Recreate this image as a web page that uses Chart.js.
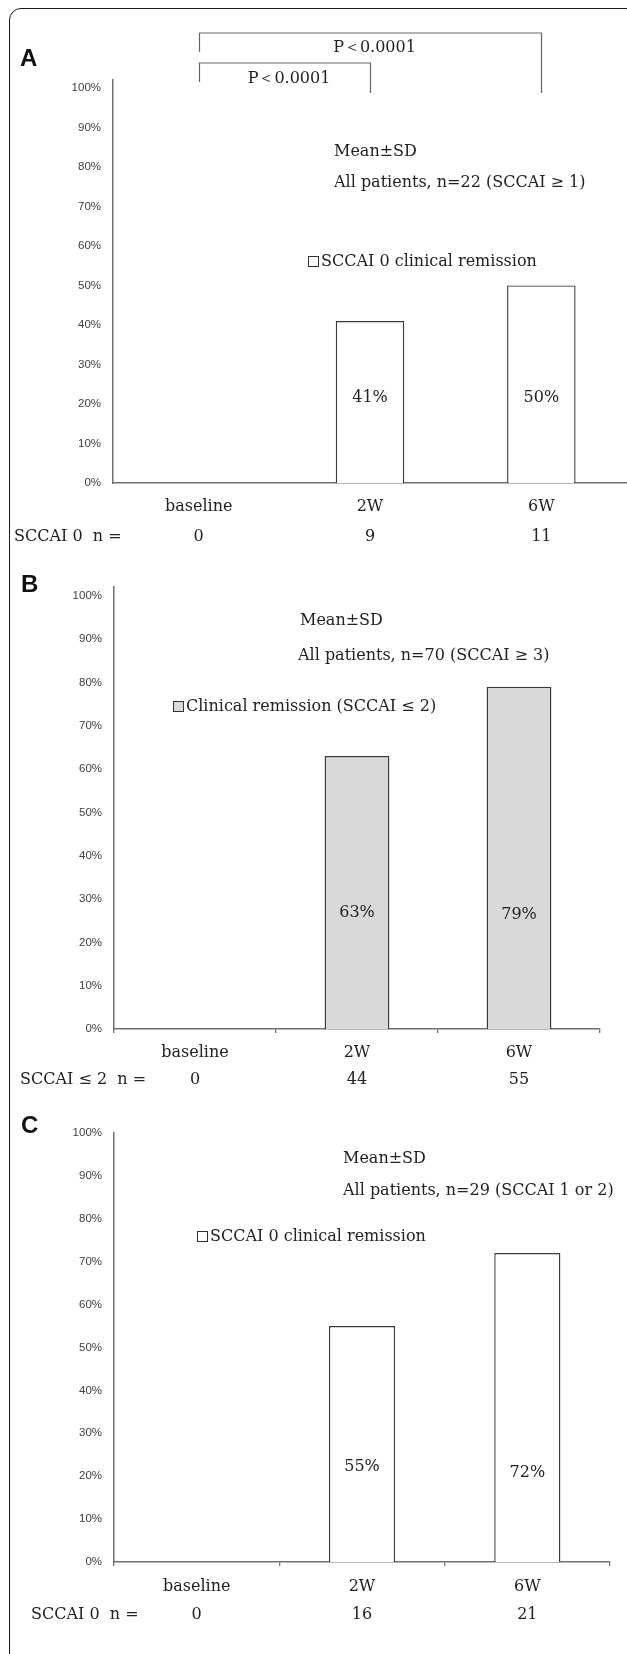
<!DOCTYPE html>
<html>
<head>
<meta charset="utf-8">
<script src="https://cdn.jsdelivr.net/npm/chart.js@4/dist/chart.umd.min.js"></script>
<style>
  html, body { margin: 0; padding: 0; background: #fff; }
  #page { position: relative; width: 627px; height: 1654px; overflow: hidden; }
  #frame {
    position: absolute; left: 9px; top: 8px; width: 660px; height: 1680px;
    border: 1.3px solid #1a1a1a; border-radius: 12px; box-sizing: border-box;
  }
  canvas { position: absolute; left: 0; }
</style>
</head>
<body>
<div id="page">
  <div id="frame"></div>
  <canvas id="panelA" width="627" height="545" style="top:0"></canvas>
  <canvas id="panelB" width="627" height="545" style="top:545px"></canvas>
  <canvas id="panelC" width="627" height="564" style="top:1090px"></canvas>
</div>
<script>
const categories = ['baseline', '2W', '6W']
const yTickValues = [0, 10, 20, 30, 40, 50, 60, 70, 80, 90, 100]

// % of patients in remission
const remissionA = [0, 41, 50]
const remissionB = [0, 63, 79]
const remissionC = [0, 55, 72]

// patients in remission (n)
const countA = [0, 9, 11]
const countB = [0, 44, 55]
const countC = [0, 16, 21]

const serif = '"DejaVu Serif", "Liberation Serif", serif'
const sans = '"Liberation Sans", Arial, sans-serif'
const axisColor = '#707070'
const barLine = '#3a3a3a'
const ink = '#222'

function panelText(p) {
  return {
    id: 'panelText',
    afterDraw(chart) {
      const ctx = chart.ctx
      const x = chart.scales.x
      const y = chart.scales.y
      ctx.save()
      ctx.textBaseline = 'middle'

      ctx.fillStyle = '#111'
      ctx.textAlign = 'left'
      ctx.font = 'bold 24px ' + sans
      ctx.fillText(p.letter, p.letterX, p.letterY)

      ctx.fillStyle = ink
      ctx.font = '16px ' + serif
      ctx.fillText('Mean±SD', p.meanX, p.meanY)
      ctx.fillText(p.allText, p.allX, p.allY)
      ctx.fillText(p.legend, p.legendX + 13, p.legendY)
      ctx.fillText(p.nLabel, p.nX, p.nY)

      ctx.fillStyle = p.fill
      ctx.strokeStyle = '#333'
      ctx.lineWidth = 1
      ctx.fillRect(p.legendX + 0.5, p.legendY - 5.5, 10, 10)
      ctx.strokeRect(p.legendX + 0.5, p.legendY - 5.5, 10, 10)

      // values written inside the bars
      ctx.fillStyle = ink
      ctx.textAlign = 'center'
      const bars = chart.getDatasetMeta(0).data
      p.values.forEach((v, i) => {
        if (!v) return
        ctx.fillText(v + '%', bars[i].x, y.getPixelForValue(p.labelAt[i]))
      })

      // significance brackets
      ;(p.brackets || []).forEach((b) => {
        const x0 = Math.round(x.getPixelForValue(b.from)) + 0.5
        const x1 = Math.round(x.getPixelForValue(b.to)) + 0.5
        ctx.strokeStyle = '#666'
        ctx.lineWidth = 1.2
        ctx.beginPath()
        ctx.moveTo(x0, b.leftEnd)
        ctx.lineTo(x0, b.top)
        ctx.lineTo(x1, b.top)
        ctx.lineTo(x1, b.rightEnd)
        ctx.stroke()
        ctx.fillStyle = ink
        ctx.fillText(b.text, (x0 + x1) / 2 + 4, b.textY)
      })
      ctx.restore()
    },
  }
}

function makePanel(id, p) {
  const xTicks = p.tickMarks
  return new Chart(document.getElementById(id), {
    type: 'bar',
    data: {
      labels: categories.map((c, i) => [c, String(p.counts[i])]),
      datasets: [
        {
          data: p.values,
          backgroundColor: p.fill,
          borderColor: barLine,
          borderWidth: 1.4,
          borderSkipped: 'bottom',
          barPercentage: 0.4,
          categoryPercentage: 1,
        },
      ],
    },
    options: {
      responsive: false,
      animation: false,
      devicePixelRatio: 1,
      layout: { padding: { top: p.top, right: p.right, left: 0, bottom: 0 } },
      plugins: { legend: { display: false }, tooltip: { enabled: false } },
      scales: {
        x: {
          grid: {
            display: xTicks,
            drawOnChartArea: false,
            drawTicks: xTicks,
            tickLength: 4,
            color: axisColor,
            lineWidth: 1.3,
            offset: true,
          },
          border: { color: axisColor, width: 1.5 },
          ticks: {
            color: ink,
            font: { family: serif, size: 16, lineHeight: p.lineHeight },
            padding: p.labelPad,
            maxRotation: 0,
            autoSkip: false,
          },
          afterFit: (a) => { a.height = p.xHeight },
        },
        y: {
          min: 0,
          max: p.max,
          ticks: {
            callback: (v) => v + '%',
            color: '#404040',
            font: { family: sans, size: 11.5 },
            padding: 12,
          },
          grid: { display: false, drawTicks: false },
          border: { color: axisColor, width: 1.5 },
          afterBuildTicks: (a) => { a.ticks = yTickValues.map((v) => ({ value: v })) },
          afterFit: (a) => { a.width = p.left },
        },
      },
    },
    plugins: [panelText(p)],
  })
}

makePanel('panelA', {
  values: remissionA, counts: countA, fill: '#ffffff',
  top: 80, right: 0, left: 113, max: 102, xHeight: 62,
  lineHeight: 1.875, labelPad: 9, tickMarks: false,
  labelAt: [0, 21.5, 21.5],
  letter: 'A', letterX: 20, letterY: 59,
  meanX: 334, meanY: 152,
  allText: 'All patients, n=22 (SCCAI ≥ 1)', allX: 334, allY: 183,
  legend: 'SCCAI 0 clinical remission', legendX: 308, legendY: 262,
  nLabel: 'SCCAI 0  n =', nX: 14, nY: 537,
  brackets: [
    { from: 0, to: 2, top: 33, leftEnd: 52, rightEnd: 93, text: 'P＜0.0001', textY: 48 },
    { from: 0, to: 1, top: 63, leftEnd: 82, rightEnd: 93, text: 'P＜0.0001', textY: 79 },
  ],
})

makePanel('panelB', {
  values: remissionB, counts: countB, fill: '#d9d9d9',
  top: 42, right: 27, left: 114, max: 102, xHeight: 61,
  lineHeight: 1.6875, labelPad: 6.5, tickMarks: true,
  labelAt: [0, 26.8, 26.3],
  letter: 'B', letterX: 21, letterY: 40,
  meanX: 300, meanY: 76,
  allText: 'All patients, n=70 (SCCAI ≥ 3)', allX: 298, allY: 111,
  legend: 'Clinical remission (SCCAI ≤ 2)', legendX: 173, legendY: 162,
  nLabel: 'SCCAI ≤ 2  n =', nX: 20, nY: 535,
})

makePanel('panelC', {
  values: remissionC, counts: countC, fill: '#ffffff',
  top: 43, right: 17, left: 114, max: 100, xHeight: 92,
  lineHeight: 1.75, labelPad: 7, tickMarks: true,
  labelAt: [0, 22.1, 20.7],
  letter: 'C', letterX: 21, letterY: 36,
  meanX: 343, meanY: 69,
  allText: 'All patients, n=29 (SCCAI 1 or 2)', allX: 343, allY: 101,
  legend: 'SCCAI 0 clinical remission', legendX: 197, legendY: 147,
  nLabel: 'SCCAI 0  n =', nX: 31, nY: 525,
})
</script>
</body>
</html>
